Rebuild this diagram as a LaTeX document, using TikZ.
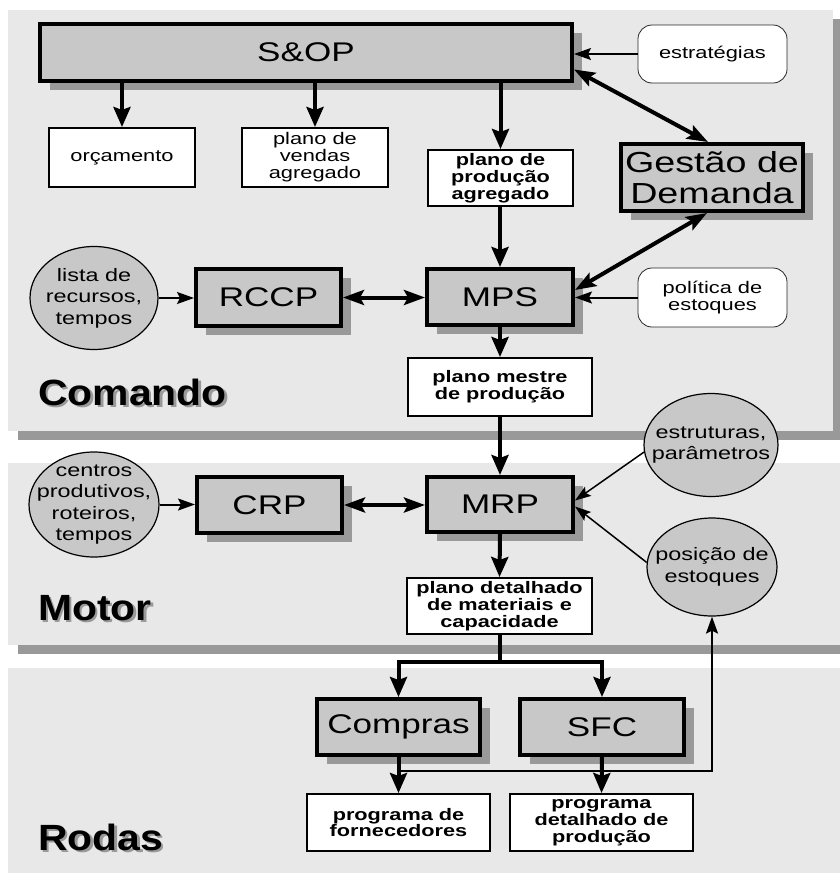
\documentclass[tikz,border=0pt]{standalone}
\usepackage{fontspec}
\setmainfont{Liberation Sans}
\newfontfamily\lf[FakeStretch=1.3]{Liberation Sans}
\newfontfamily\secf[FakeStretch=1.12]{Liberation Sans}
\usetikzlibrary{arrows.meta,shapes.geometric,shadows,calc}
\definecolor{panel}{HTML}{E8E8E8}
\definecolor{boxgray}{HTML}{C8C8C8}
\definecolor{shd}{HTML}{999999}
\newcommand{\shtext}[1]{\rlap{\kern2.5pt\raisebox{-2.5pt}{\textcolor{shd}{#1}}}#1}
\tikzset{
  mainbox/.style={draw=black, line width=4pt, fill=boxgray, inner sep=0pt, align=center,
    font=\lf\fontsize{27}{30}\selectfont,
    drop shadow={shadow xshift=10pt, shadow yshift=-9pt, opacity=1, fill=shd}},
  wbox/.style={draw=black, line width=2pt, fill=white, inner sep=0pt, align=center,
    font=\lf\fontsize{16.8}{17}\selectfont},
  bbox/.style={wbox, font=\lf\bfseries\fontsize{16.7}{16.8}\selectfont},
  rbox/.style={draw=black!85, line width=0.8pt, fill=white, rounded corners=14pt, inner sep=0pt,
    align=center, font=\lf\fontsize{16.8}{17}\selectfont},
  ell/.style={ellipse, draw=black, line width=1.2pt, fill=boxgray, inner sep=0pt},
  etxt/.style={align=center, inner sep=0pt, font=\lf\fontsize{18}{21.5}\selectfont},
  sec/.style={anchor=base west, inner sep=0pt, font=\secf\bfseries\fontsize{36.5}{40}\selectfont},
  thk/.style={line width=4pt, -{Stealth[length=20pt,width=17pt,inset=3pt]}},
  dbl/.style={line width=4pt, {Stealth[length=21pt,width=15pt,inset=4pt]}-{Stealth[length=21pt,width=15pt,inset=4pt]}},
  thn/.style={line width=2pt, -{Stealth[length=17pt,width=12pt,inset=3pt]}},
  hair/.style={line width=1.5pt, -{Stealth[length=16pt,width=11pt,inset=3pt]}},
}
\begin{document}
\begin{tikzpicture}[x=1pt,y=-1pt]
\useasboundingbox (0,0) rectangle (839,873);
\fill[white] (0,0) rectangle (839,873);
% panels
\fill[shd] (18,19) rectangle (843,440);
\fill[panel] (8,10) rectangle (833,431);
\fill[shd] (18,472) rectangle (855,654);
\fill[panel] (8,463) rectangle (845,645);
\fill[panel] (8,668) rectangle (845,880);
% section labels
\node[sec] (lcmd) at (38,405) {\shtext{Comando}};
\node[sec] (lmot) at (38,620) {\shtext{Motor}};
\node[sec] (lrod) at (38,850) {\shtext{Rodas}};
% main boxes
\node[mainbox, minimum width=532pt, minimum height=57pt] (sop) at (306,52.5) {S\&OP};
\node[mainbox, minimum width=182pt, minimum height=67pt, font=\lf\fontsize{29}{30.5}\selectfont] (gd) at (712,177.5) {Gestão de\\Demanda};
\node[mainbox, minimum width=145pt, minimum height=57pt] (rccp) at (268.5,297.5) {RCCP};
\node[mainbox, minimum width=146pt, minimum height=56pt] (mps) at (500,297) {MPS};
\node[mainbox, minimum width=145pt, minimum height=56pt] (crp) at (269.5,505) {CRP};
\node[mainbox, minimum width=146pt, minimum height=55pt] (mrp) at (500,504.5) {MRP};
\node[mainbox, minimum width=163pt, minimum height=56pt] (comp) at (398.5,727) {Compras};
\node[mainbox, minimum width=164pt, minimum height=56pt] (sfc) at (602,727) {SFC};
% white boxes
\node[wbox, minimum width=146pt, minimum height=59pt] (orc) at (122,157.5) {orçamento};
\node[wbox, minimum width=146pt, minimum height=59pt] (pva) at (315,157.5) {plano de\\vendas\\agregado};
\node[bbox, minimum width=145pt, minimum height=56pt] (ppa) at (500.5,178) {plano de\\produção\\agregado};
\node[bbox, minimum width=184pt, minimum height=58pt] (pmp) at (500,387) {plano mestre\\de produção};
\node[bbox, minimum width=185pt, minimum height=56pt] (pdm) at (499.5,606) {plano detalhado\\de materiais e\\capacidade};
\node[bbox, minimum width=183pt, minimum height=57pt] (pf) at (398.5,822.5) {programa de\\fornecedores};
\node[bbox, minimum width=183pt, minimum height=57pt] (pdp) at (601.5,822.5) {programa\\detalhado de\\produção};
% rounded boxes
\node[rbox, minimum width=149pt, minimum height=58pt] (strat) at (712.5,54) {estratégias};
\node[rbox, minimum width=149pt, minimum height=59pt] (pol) at (712.5,297.5) {política de\\estoques};
% ellipses
\node[ell, minimum width=128pt, minimum height=103pt] (lista) at (94,298) {};
\node[etxt] (listat) at (lista) {lista de\\recursos,\\tempos};
\node[ell, minimum width=130pt, minimum height=105pt] (cen) at (94,504.5) {};
\node[etxt] (cent) at (cen) {centros\\produtivos,\\roteiros,\\tempos};
\node[ell, minimum width=134pt, minimum height=103pt] (estr) at (711,445) {};
\node[etxt] (estrt) at (estr) {estruturas,\\parâmetros};
\node[ell, minimum width=130pt, minimum height=98pt] (pos) at (712,567) {};
\node[etxt] (post) at (pos) {posição de\\estoques};
% connectors
\draw[thk] (sop.south -| orc.north) -- (orc.north);
\draw[thk] (sop.south -| pva.north) -- (pva.north);
\draw[thk] (sop.south -| ppa.north) -- (ppa.north);
\draw[thn] (strat.west) -- (strat.west -| sop.east);
\draw[dbl] ([yshift=-17pt]sop.east) -- ([xshift=-4pt]gd.north);
\draw[dbl] ([xshift=-5pt]gd.south) -- ([yshift=7pt]mps.east);
\draw[thk] (ppa.south) -- (ppa.south -| mps.north) -- (mps.north);
\draw[thn] (pol.west) -- (pol.west -| mps.east);
\draw[thn] (lista.east) -- (lista.east -| rccp.west);
\draw[dbl] (rccp.east) -- (rccp.east -| mps.west);
\draw[thk] (mps.south) -- (pmp.north);
\draw[thk] (pmp.south) -- (mrp.north);
\draw[thn] (cen.east) -- (cen.east -| crp.west);
\draw[dbl] (crp.east) -- (crp.east -| mrp.west);
\draw[hair] (estr.186) -- ([yshift=4pt]mrp.east);
\draw[hair] (pos.176) -- ([yshift=-2pt]mrp.east);
\draw[thk] (mrp.south) -- (pdm.north);
\coordinate (split) at ($(pdm.south)+(0,27)$);
\draw[line width=4pt] (pdm.south) -- (split);
\draw[thk] (split) -| (comp.north);
\draw[thk] (split) -| (sfc.north);
\draw[thk] (comp.south) -- (pf.north);
\draw[thk] (sfc.south) -- (pdp.north);
\coordinate (fb) at ($(comp.south)+(0,14)$);
\draw[thn] (fb) -| (pos.south);
\end{tikzpicture}
\end{document}
